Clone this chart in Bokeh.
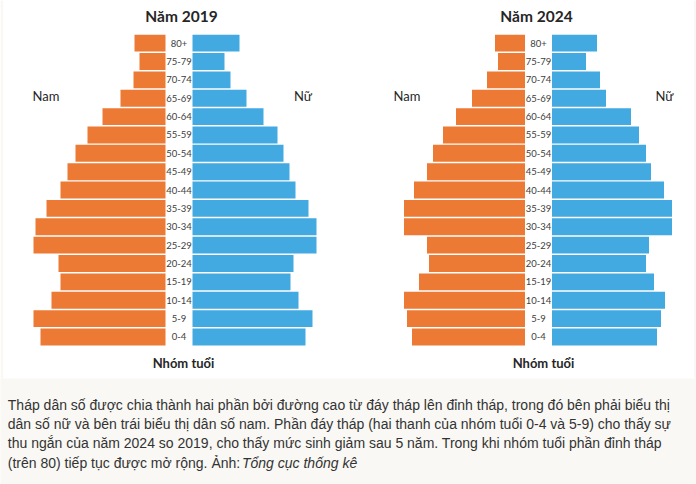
from bokeh.plotting import figure
from bokeh.models import Range1d
from bokeh.layouts import column, row
from bokeh.core.properties import value
from bokeh.embed import file_html
from bokeh.resources import INLINE

# Age groups from bottom (0-4) to top (80+)
ages = ["0-4", "5-9", "10-14", "15-19", "20-24", "25-29", "30-34", "35-39",
        "40-44", "45-49", "50-54", "55-59", "60-64", "65-69", "70-74", "75-79", "80+"]

# Relative bar lengths (arbitrary units)
male_2019 = [125, 132, 114, 105, 107, 132, 130, 119, 105, 98, 90, 78, 63, 45, 32, 26, 31]
female_2019 = [113, 120, 106, 98, 101, 124, 124, 116, 103, 97, 91, 85, 71, 54, 38, 32, 47]
male_2024 = [113, 118, 121, 106, 96, 98, 121, 121, 111, 98, 92, 82, 69, 53, 38, 27, 30]
female_2024 = [105, 109, 113, 102, 94, 97, 120, 120, 112, 99, 94, 87, 79, 54, 48, 34, 45]

titles = ["Năm 2019", "Năm 2024"]
side_labels = ["Nam", "Nữ"]
axis_label = "Nhóm tuổi"

caption_lines = [
    "Tháp dân số được chia thành hai phần bởi đường cao từ đáy tháp lên đỉnh tháp, trong đó bên phải biểu thị",
    "dân số nữ và bên trái biểu thị dân số nam. Phần đáy tháp (hai thanh của nhóm tuổi 0-4 và 5-9) cho thấy sự",
    "thu ngắn của năm 2024 so 2019, cho thấy mức sinh giảm sau 5 năm. Trong khi nhóm tuổi phần đỉnh tháp",
    "(trên 80) tiếp tục được mở rộng. Ảnh:",
]
caption_italic = "Tổng cục thống kê"

ORANGE = "#EC7A34"
BLUE = "#42A9E1"
PAGE_BG = "#F9F8F4"
GAP = 13.5
LABEL_FONT = value("Lato")


def pyramid(title, male, female, xr, title_x, nam_x, nu_x, axis_x, left_border, right_border):
    p = figure(width=348, height=378, x_range=Range1d(*xr), y_range=Range1d(-2.26, 18.32),
               x_axis_type=None, y_axis_type=None, toolbar_location=None,
               output_backend="svg", min_border=0,
               min_border_left=left_border, min_border_right=right_border)
    p.grid.visible = False
    p.outline_line_color = None
    p.background_fill_color = "white"
    p.border_fill_color = PAGE_BG
    ys = list(range(len(ages)))
    p.hbar(y=ys, left=[-GAP - m for m in male], right=[-GAP] * len(ys), height=0.92,
           fill_color=ORANGE, line_color=None)
    p.hbar(y=ys, left=[GAP] * len(ys), right=[GAP + f for f in female], height=0.92,
           fill_color=BLUE, line_color=None)
    p.text(x=[0] * len(ys), y=ys, text=ages, text_align="center", text_baseline="middle",
           text_font=LABEL_FONT, text_font_size="9.5px", text_color="#404040")
    p.text(x=[title_x], y=[17.47], text=[title], text_align="center", text_baseline="middle",
           text_font=LABEL_FONT, text_font_size="15.5px", text_font_style="bold",
           text_color="#262626")
    p.text(x=[nam_x, nu_x], y=[13.13, 13.13], text=side_labels, text_align="center",
           text_baseline="middle", text_font=LABEL_FONT, text_font_size="13px",
           text_color="#262626")
    p.text(x=[axis_x], y=[-1.39], text=[axis_label], text_align="center",
           text_baseline="middle", text_font=LABEL_FONT, text_font_size="13px",
           text_font_style="bold", text_color="#262626")
    return p


p1 = pyramid(titles[0], male_2019, female_2019, (-175.5, 169.5), 2.5, -133, 124, 4.5, 3, 0)
p2 = pyramid(titles[1], male_2024, female_2024, (-190, 155), -2, -131.5, 126, 5, 0, 3)

cap = figure(width=696, height=106, x_range=Range1d(0, 696), y_range=Range1d(484, 378),
             x_axis_type=None, y_axis_type=None, toolbar_location=None,
             output_backend="svg", min_border=0)
cap.grid.visible = False
cap.outline_line_color = None
cap.background_fill_color = PAGE_BG
cap.border_fill_color = PAGE_BG
line_y = [404.3, 423.6, 442.9, 462.2]
cap.text(x=[7.3] * len(caption_lines), y=line_y, text=caption_lines, text_align="left",
         text_baseline="alphabetic", text_font=value("Liberation Sans"), text_font_size="14px",
         text_color="#333333")
cap.text(x=[241.5], y=[line_y[3]], text=[caption_italic], text_align="left",
         text_baseline="alphabetic", text_font=value("Liberation Sans"), text_font_size="14px",
         text_font_style="italic", text_color="#333333")

layout = column(row(p1, p2, spacing=0), cap, spacing=0)
open("out.html", "w").write(file_html(layout, INLINE))
